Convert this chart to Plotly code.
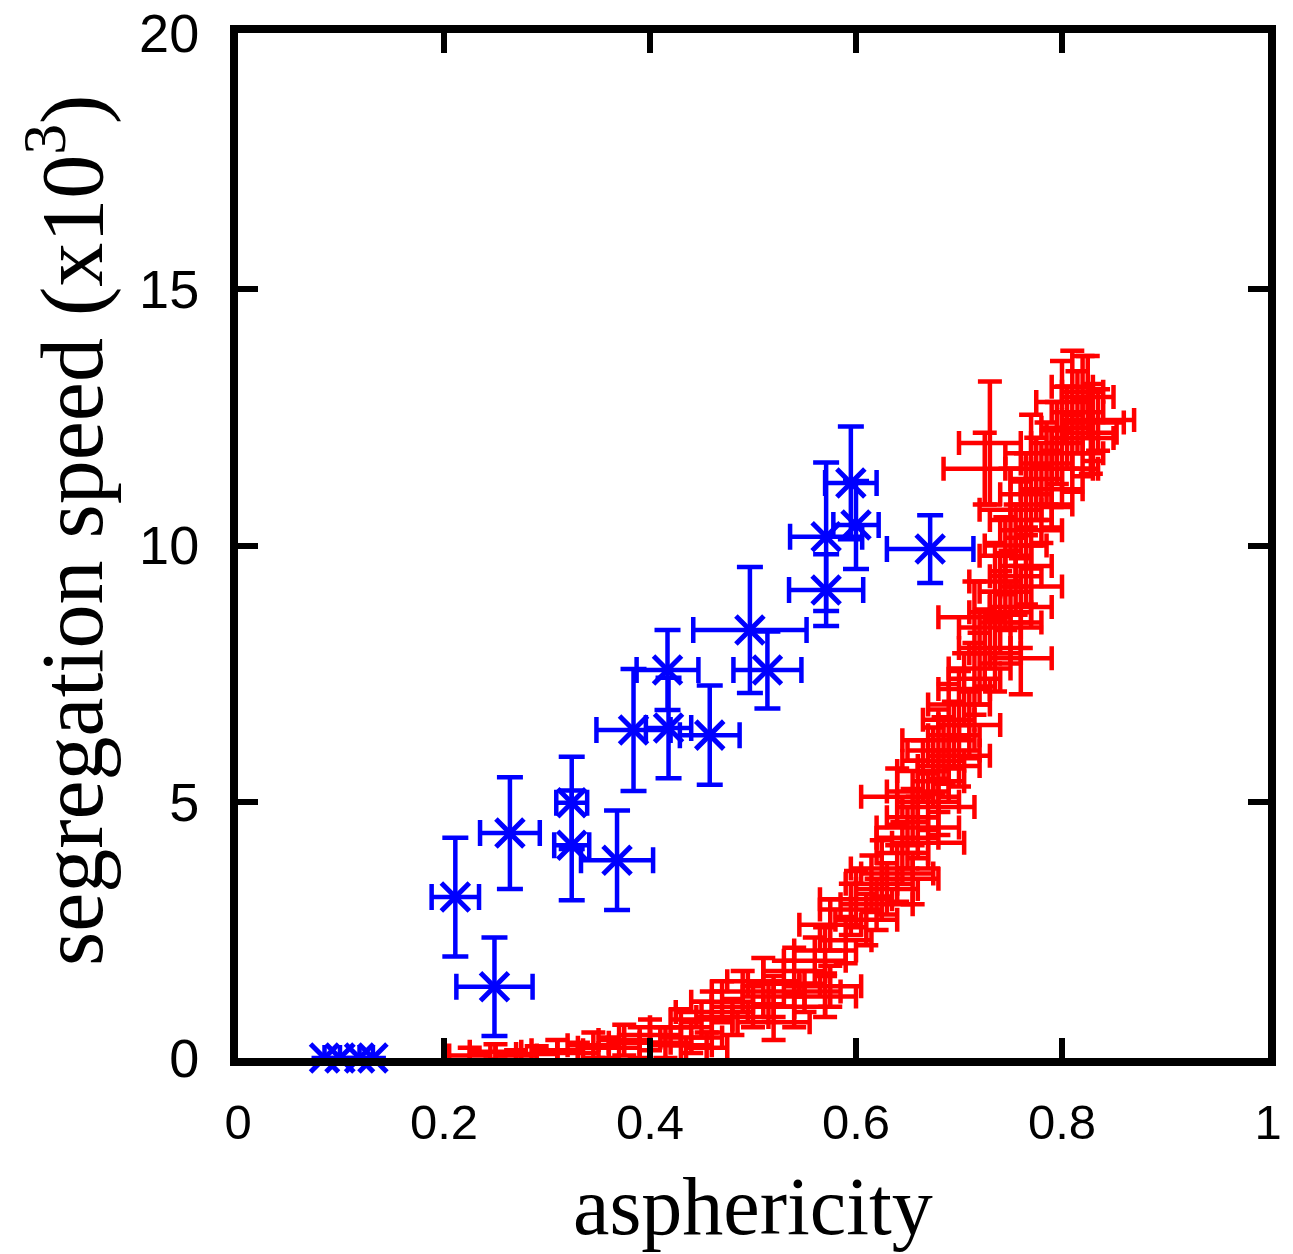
import plotly.graph_objects as go

# ---- blue series (asterisk markers) ----
blue_x = [0.084, 0.099, 0.118, 0.131, 0.211, 0.249, 0.264, 0.324, 0.324, 0.368, 0.384,
          0.417, 0.418, 0.458, 0.497, 0.514, 0.571, 0.571, 0.595, 0.600, 0.672]
blue_y = [0.0, 0.0, 0.0, 0.0, 3.14, 1.39, 4.39, 4.98, 4.15, 3.86, 6.40,
          7.57, 6.44, 6.30, 8.35, 7.57, 9.13, 10.17, 11.22, 10.40, 9.93]
blue_ex = [0.0, 0.0, 0.0, 0.0, 0.023, 0.037, 0.029, 0.015, 0.017, 0.035, 0.036,
           0.030, 0.022, 0.029, 0.055, 0.033, 0.036, 0.035, 0.025, 0.022, 0.042]
blue_ey = [0.0, 0.0, 0.0, 0.0, 1.16, 0.96, 1.09, 0.90, 1.07, 0.97, 1.19,
           0.78, 0.98, 0.97, 1.23, 0.75, 0.70, 1.45, 1.10, 0.86, 0.66]

# ---- red series (error bars only) ----
red_x = [0.225, 0.250, 0.270, 0.290, 0.310, 0.330, 0.345, 0.360, 0.375, 0.390, 0.400, 0.415, 0.430, 0.440, 0.455,
         0.430, 0.450, 0.460, 0.470, 0.480, 0.490, 0.500, 0.510, 0.520, 0.530, 0.540, 0.550, 0.570, 0.560, 0.570, 0.575,
         0.575, 0.590, 0.595, 0.600, 0.610, 0.615, 0.620, 0.625, 0.630, 0.640, 0.645, 0.655, 0.650,
         0.655, 0.660, 0.665, 0.670, 0.675, 0.680, 0.685, 0.690, 0.695, 0.700, 0.690, 0.700, 0.705, 0.710, 0.715, 0.680,
         0.720, 0.725, 0.730, 0.735, 0.740, 0.745, 0.750, 0.755, 0.760, 0.745, 0.755, 0.765, 0.770, 0.735, 0.715, 0.760,
         0.760, 0.765, 0.770, 0.775, 0.780, 0.785, 0.790, 0.795, 0.800, 0.805, 0.810, 0.815, 0.820, 0.825, 0.830,
         0.800, 0.810, 0.835, 0.750, 0.770, 0.730, 0.820, 0.828, 0.790, 0.725, 0.640, 0.660, 0.540, 0.520,
         0.670, 0.680]
red_y = [0.05, 0.12, 0.05, 0.08, 0.15, 0.10, 0.25, 0.20, 0.35, 0.30, 0.45, 0.30, 0.25, 0.40, 0.20,
         0.60, 0.75, 0.90, 1.10, 0.80, 1.30, 1.00, 1.50, 1.20, 1.45, 1.70, 1.30, 1.20, 1.90, 2.10, 1.40,
         2.60, 2.30, 2.90, 3.10, 2.70, 3.40, 3.00, 3.70, 3.30, 3.60, 4.00, 3.50, 4.30,
         4.70, 5.20, 5.60, 5.00, 5.80, 5.40, 6.00, 5.70, 6.30, 5.90, 6.60, 6.90, 7.20, 6.50, 7.40, 6.20,
         7.60, 8.00, 8.40, 7.90, 8.70, 9.10, 8.50, 9.40, 8.80, 9.80, 10.00, 9.60, 9.20, 9.30, 8.60, 7.80,
         10.50, 11.00, 10.30, 11.30, 10.80, 11.60, 11.10, 12.00, 11.50, 12.30, 11.80, 12.60, 12.10, 12.90, 12.40,
         12.80, 13.10, 12.45, 10.70, 11.80, 12.00, 13.00, 12.20, 11.50, 11.50, 5.10, 4.50, 1.00, 0.70,
         4.20, 4.90]
red_ex = [0.020, 0.025, 0.020, 0.020, 0.025, 0.020, 0.025, 0.030, 0.025, 0.030, 0.030, 0.025, 0.030, 0.030, 0.020,
          0.030, 0.030, 0.035, 0.030, 0.035, 0.030, 0.040, 0.035, 0.030, 0.035, 0.030, 0.035, 0.030, 0.030, 0.030, 0.030,
          0.030, 0.025, 0.030, 0.035, 0.030, 0.025, 0.035, 0.030, 0.030, 0.035, 0.025, 0.025, 0.030,
          0.025, 0.030, 0.025, 0.030, 0.030, 0.025, 0.035, 0.030, 0.025, 0.030, 0.025, 0.030, 0.025, 0.030, 0.025, 0.035,
          0.030, 0.025, 0.030, 0.025, 0.030, 0.025, 0.030, 0.025, 0.030, 0.025, 0.030, 0.025, 0.030, 0.025, 0.035, 0.030,
          0.030, 0.025, 0.030, 0.025, 0.030, 0.025, 0.030, 0.025, 0.030, 0.025, 0.030, 0.025, 0.030, 0.025, 0.030,
          0.025, 0.020, 0.035, 0.030, 0.025, 0.030, 0.020, 0.025, 0.045, 0.040, 0.035, 0.040, 0.030, 0.035,
          0.035, 0.035]
red_ey = [0.15, 0.15, 0.10, 0.15, 0.20, 0.20, 0.25, 0.20, 0.30, 0.30, 0.30, 0.30, 0.35, 0.30, 0.30,
          0.35, 0.35, 0.40, 0.40, 0.35, 0.40, 0.40, 0.45, 0.40, 0.45, 0.45, 0.40, 0.40, 0.45, 0.45, 0.40,
          0.50, 0.45, 0.50, 0.55, 0.50, 0.55, 0.50, 0.55, 0.50, 0.55, 0.60, 0.50, 0.60,
          0.55, 0.60, 0.60, 0.55, 0.65, 0.60, 0.65, 0.60, 0.65, 0.60, 0.70, 0.65, 0.70, 0.65, 0.70, 0.60,
          0.70, 0.75, 0.70, 0.75, 0.80, 0.75, 0.80, 0.75, 0.80, 0.75, 0.80, 0.75, 0.80, 0.75, 0.70, 0.70,
          0.75, 0.80, 0.75, 0.80, 0.75, 0.80, 0.75, 0.80, 0.75, 0.80, 0.75, 0.80, 0.75, 0.80, 0.75,
          0.80, 0.70, 0.60, 0.80, 0.75, 1.20, 0.70, 0.80, 0.75, 0.70, 0.55, 0.60, 0.40, 0.35,
          0.50, 0.55]

x_ticks = [0, 0.2, 0.4, 0.6, 0.8, 1]
x_labels = ["0", "0.2", "0.4", "0.6", "0.8", "1"]
y_ticks = [0, 5, 10, 15, 20]
y_labels = ["0", "5", "10", "15", "20"]

RED = "#ff0000"
BLUE = "#0000ff"

fig = go.Figure()

fig.add_trace(go.Scatter(
    x=red_x, y=red_y, mode="markers",
    marker=dict(size=1, color=RED, opacity=0),
    error_x=dict(type="data", array=red_ex, color=RED, thickness=4.5, width=12),
    error_y=dict(type="data", array=red_ey, color=RED, thickness=4.5, width=12),
    showlegend=False, hoverinfo="skip",
))

fig.add_trace(go.Scatter(
    x=blue_x, y=blue_y, mode="markers",
    marker=dict(symbol="x-thin", size=28, color=BLUE, line=dict(color=BLUE, width=5)),
    error_x=dict(type="data", array=blue_ex, color=BLUE, thickness=4.5, width=13),
    error_y=dict(type="data", array=blue_ey, color=BLUE, thickness=4.5, width=13),
    showlegend=False, cliponaxis=False,
))

axis_common = dict(
    showgrid=False, zeroline=False, showline=True, linecolor="black", linewidth=8,
    mirror="ticks", ticks="inside", ticklen=20, tickwidth=6, tickcolor="black",
)

fig.update_xaxes(
    range=[0, 1], tickvals=x_ticks, ticktext=x_labels,
    ticklabelstandoff=14,
    tickfont=dict(family="Liberation Sans, Arial, sans-serif", size=49, color="black"),
    **axis_common,
)
fig.update_yaxes(
    range=[0, 20], tickvals=y_ticks, ticktext=y_labels,
    ticklabelstandoff=20,
    tickfont=dict(family="Liberation Sans, Arial, sans-serif", size=54, color="black"),
    **axis_common,
)

serif = "Liberation Serif, Times New Roman, serif"
fig.add_annotation(
    text="asphericity", xref="paper", yref="paper", x=0.5, y=-0.145,
    xanchor="center", yanchor="middle", showarrow=False,
    font=dict(family=serif, size=82, color="black"),
)
fig.add_annotation(
    text="segregation speed (x10<sup>3</sup>)", xref="paper", yref="paper", x=-0.168, y=0.515,
    xanchor="center", yanchor="middle", showarrow=False, textangle=-90,
    font=dict(family=serif, size=88, color="black"),
)

fig.update_layout(
    width=1293, height=1254,
    margin=dict(l=238, r=25, t=33, b=196, autoexpand=False),
    plot_bgcolor="white", paper_bgcolor="white",
)

fig.write_html("out.html", config={"displayModeBar": False},
               post_script="document.body.style.margin='0px';")
